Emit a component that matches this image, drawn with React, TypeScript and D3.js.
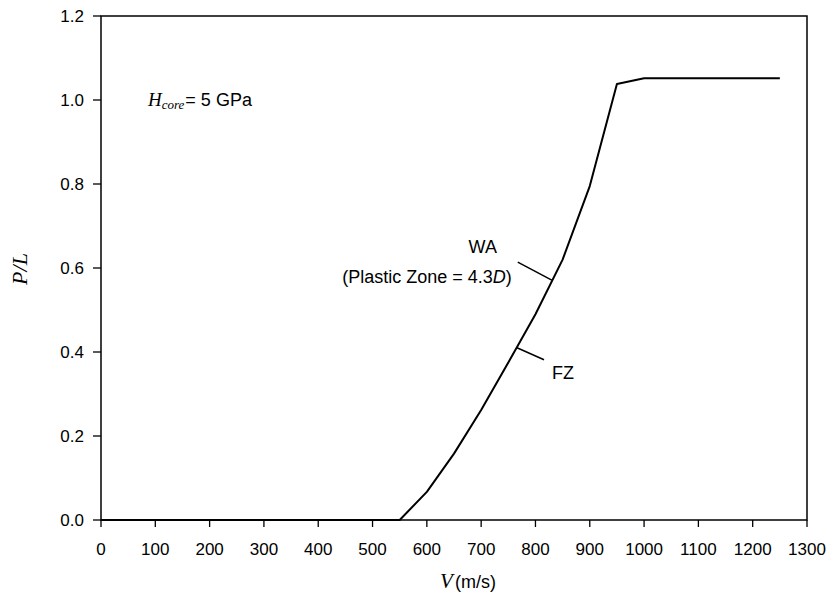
import React from 'react';
import * as d3 from 'd3';

// P/L vs impact velocity
const velocity = [0, 500, 550, 600, 650, 700, 750, 800, 850, 900, 950, 1000, 1250];
const pOverL = [0, 0, 0, 0.067, 0.158, 0.262, 0.375, 0.49, 0.62, 0.795, 1.038, 1.052, 1.052];
const xTicks = [0, 100, 200, 300, 400, 500, 600, 700, 800, 900, 1000, 1100, 1200, 1300];
const yTicks = [0, 0.2, 0.4, 0.6, 0.8, 1.0, 1.2];

// annotation anchor points on the curve
const waPoint = [830, 0.571];
const fzPoint = [766, 0.41];

const W = 835;
const H = 597;
const sans = 'Arial, "Liberation Sans", Helvetica, sans-serif';
const serif = '"Times New Roman", "Liberation Serif", serif';

export default function App() {
  const x = d3.scaleLinear().domain([0, 1300]).range([101, 807]);
  const y = d3.scaleLinear().domain([0, 1.2]).range([520, 16]);

  const line = d3.line<number>()
    .x((d, i) => x(velocity[i]))
    .y(d => y(d));

  const [wx, wy] = [x(waPoint[0]), y(waPoint[1])];
  const [fx, fy] = [x(fzPoint[0]), y(fzPoint[1])];

  return (
    <svg width={W} height={H} style={{ position: 'absolute', left: 0, top: 0, background: '#fff' }}>
      {/* frame */}
      <rect x={x(0)} y={y(1.2)} width={x(1300) - x(0)} height={y(0) - y(1.2)}
        fill="none" stroke="#000" strokeWidth={1.5} />

      {/* x axis */}
      {xTicks.map(t => (
        <g key={'x' + t} transform={`translate(${x(t)},${y(0)})`}>
          <line y1={0} y2={7} stroke="#000" strokeWidth={1.3} />
          <text y={35} textAnchor="middle" fontFamily={sans} fontSize={17}>{t}</text>
        </g>
      ))}

      {/* y axis */}
      {yTicks.map(t => (
        <g key={'y' + t} transform={`translate(${x(0)},${y(t)})`}>
          <line x1={-8} x2={0} stroke="#000" strokeWidth={1.3} />
          <text x={-17} dy="0.36em" textAnchor="end" fontFamily={sans} fontSize={17}>{t.toFixed(1)}</text>
        </g>
      ))}

      {/* axis titles */}
      <text x={468} y={588} textAnchor="middle" fontSize={21}>
        <tspan fontFamily={serif} fontStyle="italic">V</tspan>
        <tspan fontFamily={sans} fontSize={18} dx={2}>(m/s)</tspan>
      </text>
      <text transform="translate(27,269) rotate(-90)" textAnchor="middle"
        fontFamily={serif} fontStyle="italic" fontSize={22}>P/L</text>

      {/* curve */}
      <path d={line(pOverL) || ''} fill="none" stroke="#000" strokeWidth={2} strokeLinejoin="round" />

      {/* WA annotation */}
      <line x1={wx} y1={wy} x2={wx - 34} y2={wy - 18} stroke="#000" strokeWidth={1.5} />
      <text x={wx - 69} y={wy - 27} textAnchor="middle" fontFamily={sans} fontSize={18}>WA</text>
      <text x={wx - 40} y={wy + 3} textAnchor="end" fontFamily={sans} fontSize={18}>
        (Plastic Zone = 4.3<tspan fontStyle="italic">D</tspan>)
      </text>

      {/* FZ annotation */}
      <line x1={fx} y1={fy} x2={fx + 27} y2={fy + 12} stroke="#000" strokeWidth={1.5} />
      <text x={fx + 35} y={fy + 31} fontFamily={sans} fontSize={18}>FZ</text>

      {/* hardness note */}
      <text x={148} y={106} fontFamily={sans} fontSize={18}>
        <tspan fontFamily={serif} fontStyle="italic" fontSize={19}>H</tspan>
        <tspan fontFamily={serif} fontStyle="italic" fontSize={13} dy={3}>core</tspan>
        <tspan dy={-3} dx={1}>= 5 GPa</tspan>
      </text>
    </svg>
  );
}
